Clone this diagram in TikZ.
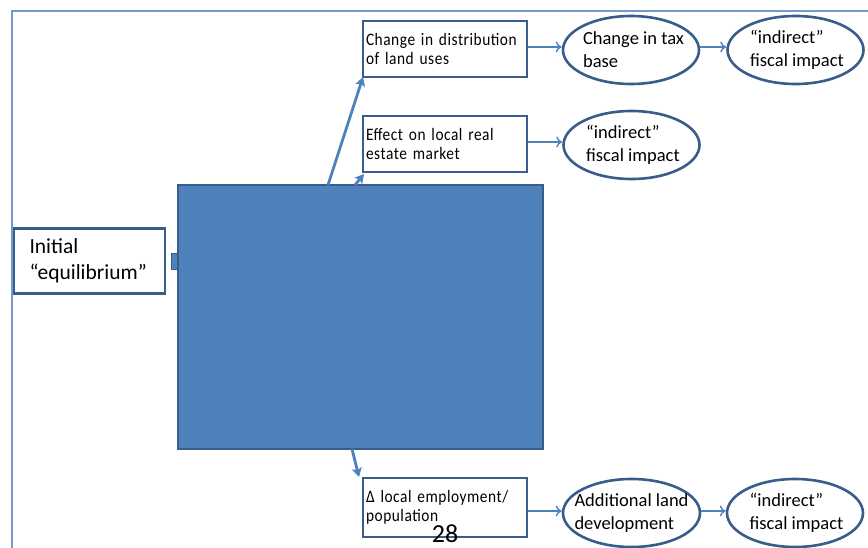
\documentclass[tikz,border=0pt]{standalone}
\usepackage{fontspec}
\setmainfont{Carlito}
\newfontfamily\boxfont[FakeStretch=0.88,LetterSpace=3,WordSpace=0.5]{Carlito}
\usetikzlibrary{shapes.geometric,arrows.meta}
\definecolor{accent}{HTML}{4F81BD}
\definecolor{edge}{HTML}{385D8A}
\tikzset{
  boxnode/.style={draw=edge, line width=2.6pt, fill=white, minimum width=164pt, minimum height=56pt, text width=158pt, align=left, inner xsep=2pt, inner ysep=3pt, font=\boxfont\fontsize{17.5}{19.5}\selectfont},
  ovalnode/.style={draw=edge, line width=2.6pt, fill=white, ellipse, minimum width=136pt, minimum height=68pt, inner xsep=-9pt, inner ysep=0pt, font=\fontsize{18.5}{23}\selectfont, align=left},
  thinarrow/.style={draw=accent, line width=1.4pt, -{To[length=6pt,width=11pt]}},
  thickarrow/.style={draw=accent, line width=2.8pt, -{Stealth[length=9pt,width=10pt,inset=2pt]}},
}
\begin{document}
\begin{tikzpicture}[x=1pt,y=-1pt]
\useasboundingbox (0,0) rectangle (868,548);
% frame
\draw[accent!80, line width=2pt] (12,548) -- (12,11) -- (868,11);
% big rectangle
\node[draw=edge, line width=2.6pt, fill=accent, minimum width=365pt, minimum height=264pt, inner sep=0pt] (big) at (360.5,317) {};
\node[draw=edge, line width=1pt, fill=accent, minimum width=6pt, minimum height=16pt, inner sep=0pt] (stub) at (174.5,262) {};
% initial
\node[draw=edge, line width=2.6pt, fill=white, minimum width=151pt, minimum height=65pt, text width=120pt, align=left, inner sep=0pt, font=\fontsize{21.5}{26}\selectfont] (init) at (89.5,261) {Initial\\“equilibrium”};
% boxes
\node[boxnode] (dist) at (445,49) {Change in distribution\\of land uses};
\node[boxnode] (real) at (445,144) {Effect on local real\\estate market};
\node[boxnode, minimum height=59pt] (empl) at (445,507.5) {Δ local employment/\\population};
% ovals
\node[ovalnode] (tax) at (631,50) {\hspace*{5pt}Change in tax\\\hspace*{5pt}base};
\node[ovalnode] (fi1) at (795.5,50) {\hspace*{3pt}“indirect”\\\hspace*{3pt}fiscal impact};
\node[ovalnode] (fi2) at (631.5,145) {\hspace*{3pt}“indirect”\\\hspace*{3pt}fiscal impact};
\node[ovalnode, minimum width=137pt] (add) at (631.5,513) {Additional land\\development};
\node[ovalnode, minimum width=136pt] (fi3) at (795,513) {\hspace*{3pt}“indirect”\\\hspace*{3pt}fiscal impact};
% thick arrows
\coordinate (s1) at (328,185);
\coordinate (s2) at (355,185);
\coordinate (s3) at (352,449);
\draw[thickarrow] (s1) -- (363,77);
\draw[thickarrow] (s2) -- (364,174);
\draw[thickarrow] (s3) -- (359,477);
% thin arrows
\draw[thinarrow] (dist.east |- 0,47) -- (tax.west |- 0,47);
\draw[thinarrow] (tax.east |- 0,47) -- (fi1.west |- 0,47);
\draw[thinarrow] (real.east |- 0,142) -- (fi2.west |- 0,142);
\draw[thinarrow] (empl.east |- 0,511) -- (add.west |- 0,511);
\draw[thinarrow] (add.east |- 0,511) -- (fi3.west |- 0,511);
% page number
\node[font=\fontsize{26}{26}\selectfont, inner sep=0pt] (pg) at (445,534) {28};
\end{tikzpicture}
\end{document}
